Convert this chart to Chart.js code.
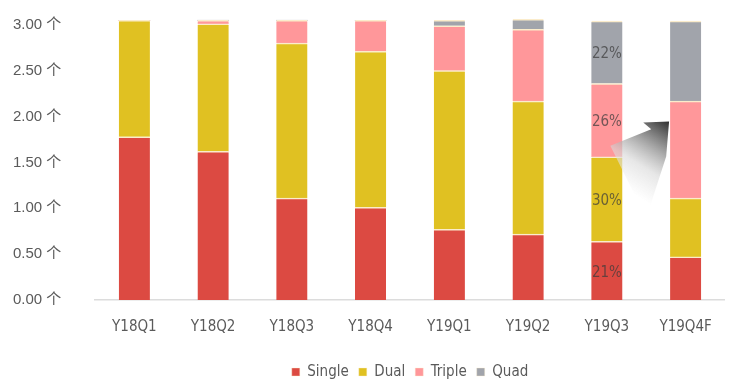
<!DOCTYPE html>
<html>
<head>
<meta charset="utf-8">
<script src="https://cdn.jsdelivr.net/npm/chart.js@4/dist/chart.umd.min.js"></script>
<style>
  html, body { margin: 0; padding: 0; background: #ffffff; }
  #wrap { width: 730px; height: 385px; }
</style>
</head>
<body>
<div id="wrap"><canvas id="c" width="730" height="385"></canvas></div>
<script>
// Quarters on the x axis
const categories = ['Y18Q1', 'Y18Q2', 'Y18Q3', 'Y18Q4', 'Y19Q1', 'Y19Q2', 'Y19Q3', 'Y19Q4F'];

// Average number of cameras per phone, split by configuration
const singleCam = [1.78, 1.62, 1.11, 1.01, 0.77, 0.72, 0.64, 0.47];
const dualCam   = [1.27, 1.39, 1.69, 1.70, 1.73, 1.45, 0.92, 0.64];
const tripleCam = [0.00, 0.04, 0.25, 0.34, 0.49, 0.78, 0.80, 1.06];
const quadCam   = [0.00, 0.00, 0.00, 0.00, 0.06, 0.11, 0.68, 0.87];

const seriesNames = ['Single', 'Dual', 'Triple', 'Quad'];

// Value-axis tick labels
const yTickValues = [0, 0.5, 1, 1.5, 2, 2.5, 3];
const yUnit = '个';

// Quarter whose segments carry share-of-total labels
const shareCategory = 'Y19Q3';

// Arrow from the labelled quarter to the forecast quarter:
// [fraction of the gap between the two bars' centres, value on the y axis]
const arrowFrom = 'Y19Q3';
const arrowTo = 'Y19Q4F';
const arrowShape = [
  [0.79, 1.947], [0.462, 1.936], [0.563, 1.862], [0.044, 1.681],
  [0.50, 0.894], [0.753, 1.564]
];

const colors = ['#dc4a42', '#e0c122', '#ff979a', '#a1a4ab'];
const condensedFont = '"DejaVu Sans Condensed", "Liberation Sans", "Noto Sans CJK SC", sans-serif';
const regularFont = '"Liberation Sans", "Noto Sans CJK SC", sans-serif';

const seriesData = [singleCam, dualCam, tripleCam, quadCam];

const datasets = seriesNames.map((name, i) => ({
  label: name,
  data: seriesData[i],
  backgroundColor: colors[i],
  borderColor: '#fbeccb',
  borderWidth: { top: 1.5, right: 0, bottom: 0, left: 0 },
  borderSkipped: false,
  barThickness: 31
}));

const arrowPlugin = {
  id: 'forecastArrow',
  afterDatasetsDraw(chart) {
    const { ctx, scales: { x, y } } = chart;
    const x0 = x.getPixelForValue(categories.indexOf(arrowFrom));
    const x1 = x.getPixelForValue(categories.indexOf(arrowTo));
    const pts = arrowShape.map(([f, v]) => [x0 + f * (x1 - x0), y.getPixelForValue(v)]);
    const tip = pts[0];
    const g = ctx.createLinearGradient(tip[0], tip[1], x0 + 0.25 * (x1 - x0), y.getPixelForValue(1.2));
    g.addColorStop(0, 'rgba(40,40,40,0.97)');
    g.addColorStop(0.3, 'rgba(120,120,120,0.8)');
    g.addColorStop(0.65, 'rgba(215,215,215,0.6)');
    g.addColorStop(1, 'rgba(255,255,255,0.55)');
    ctx.save();
    ctx.beginPath();
    pts.forEach(([px, py], i) => (i ? ctx.lineTo(px, py) : ctx.moveTo(px, py)));
    ctx.closePath();
    ctx.fillStyle = g;
    ctx.fill();
    ctx.restore();
  }
};

const shareLabelPlugin = {
  id: 'shareLabels',
  afterDatasetsDraw(chart) {
    const { ctx } = chart;
    const idx = categories.indexOf(shareCategory);
    const total = seriesData.reduce((s, arr) => s + arr[idx], 0);
    ctx.save();
    ctx.font = '15px ' + condensedFont;
    ctx.fillStyle = 'rgba(60,60,60,0.72)';
    ctx.textAlign = 'center';
    ctx.textBaseline = 'middle';
    chart.data.datasets.forEach((ds, i) => {
      const bar = chart.getDatasetMeta(i).data[idx];
      const pct = Math.round(ds.data[idx] / total * 100) + '%';
      ctx.fillText(pct, bar.x, (bar.y + bar.base) / 2 + 2);
    });
    ctx.restore();
  }
};

new Chart(document.getElementById('c'), {
  type: 'bar',
  data: { labels: categories, datasets },
  options: {
    responsive: false,
    animation: false,
    layout: { padding: { left: 13, right: 3, top: 5, bottom: -4.5 } },
    scales: {
      x: {
        stacked: true,
        afterFit(scale) { scale.height = 54.5; },
        grid: { display: false, drawTicks: false },
        border: { display: true, color: '#dcdcdc', width: 1.5 },
        ticks: { font: { family: condensedFont, size: 15 }, color: '#5a5a5a', padding: 18 }
      },
      y: {
        stacked: true,
        min: 0,
        max: 3.14,
        afterBuildTicks(scale) { scale.ticks = yTickValues.map(v => ({ value: v })); },
        afterFit(scale) { scale.width = 82; },
        grid: { display: false, drawTicks: false },
        border: { display: false },
        ticks: {
          crossAlign: 'far',
          font: { family: regularFont, size: 15 },
          color: '#5a5a5a',
          callback: v => v.toFixed(2) + ' ' + yUnit
        }
      }
    },
    plugins: {
      legend: {
        position: 'bottom',
        fullSize: false,
        labels: {
          boxWidth: 8,
          boxHeight: 8,
          padding: 10,
          color: '#5a5a5a',
          font: { family: condensedFont, size: 15 }
        }
      },
      tooltip: { enabled: false }
    }
  },
  plugins: [arrowPlugin, shareLabelPlugin]
});
</script>
</body>
</html>
